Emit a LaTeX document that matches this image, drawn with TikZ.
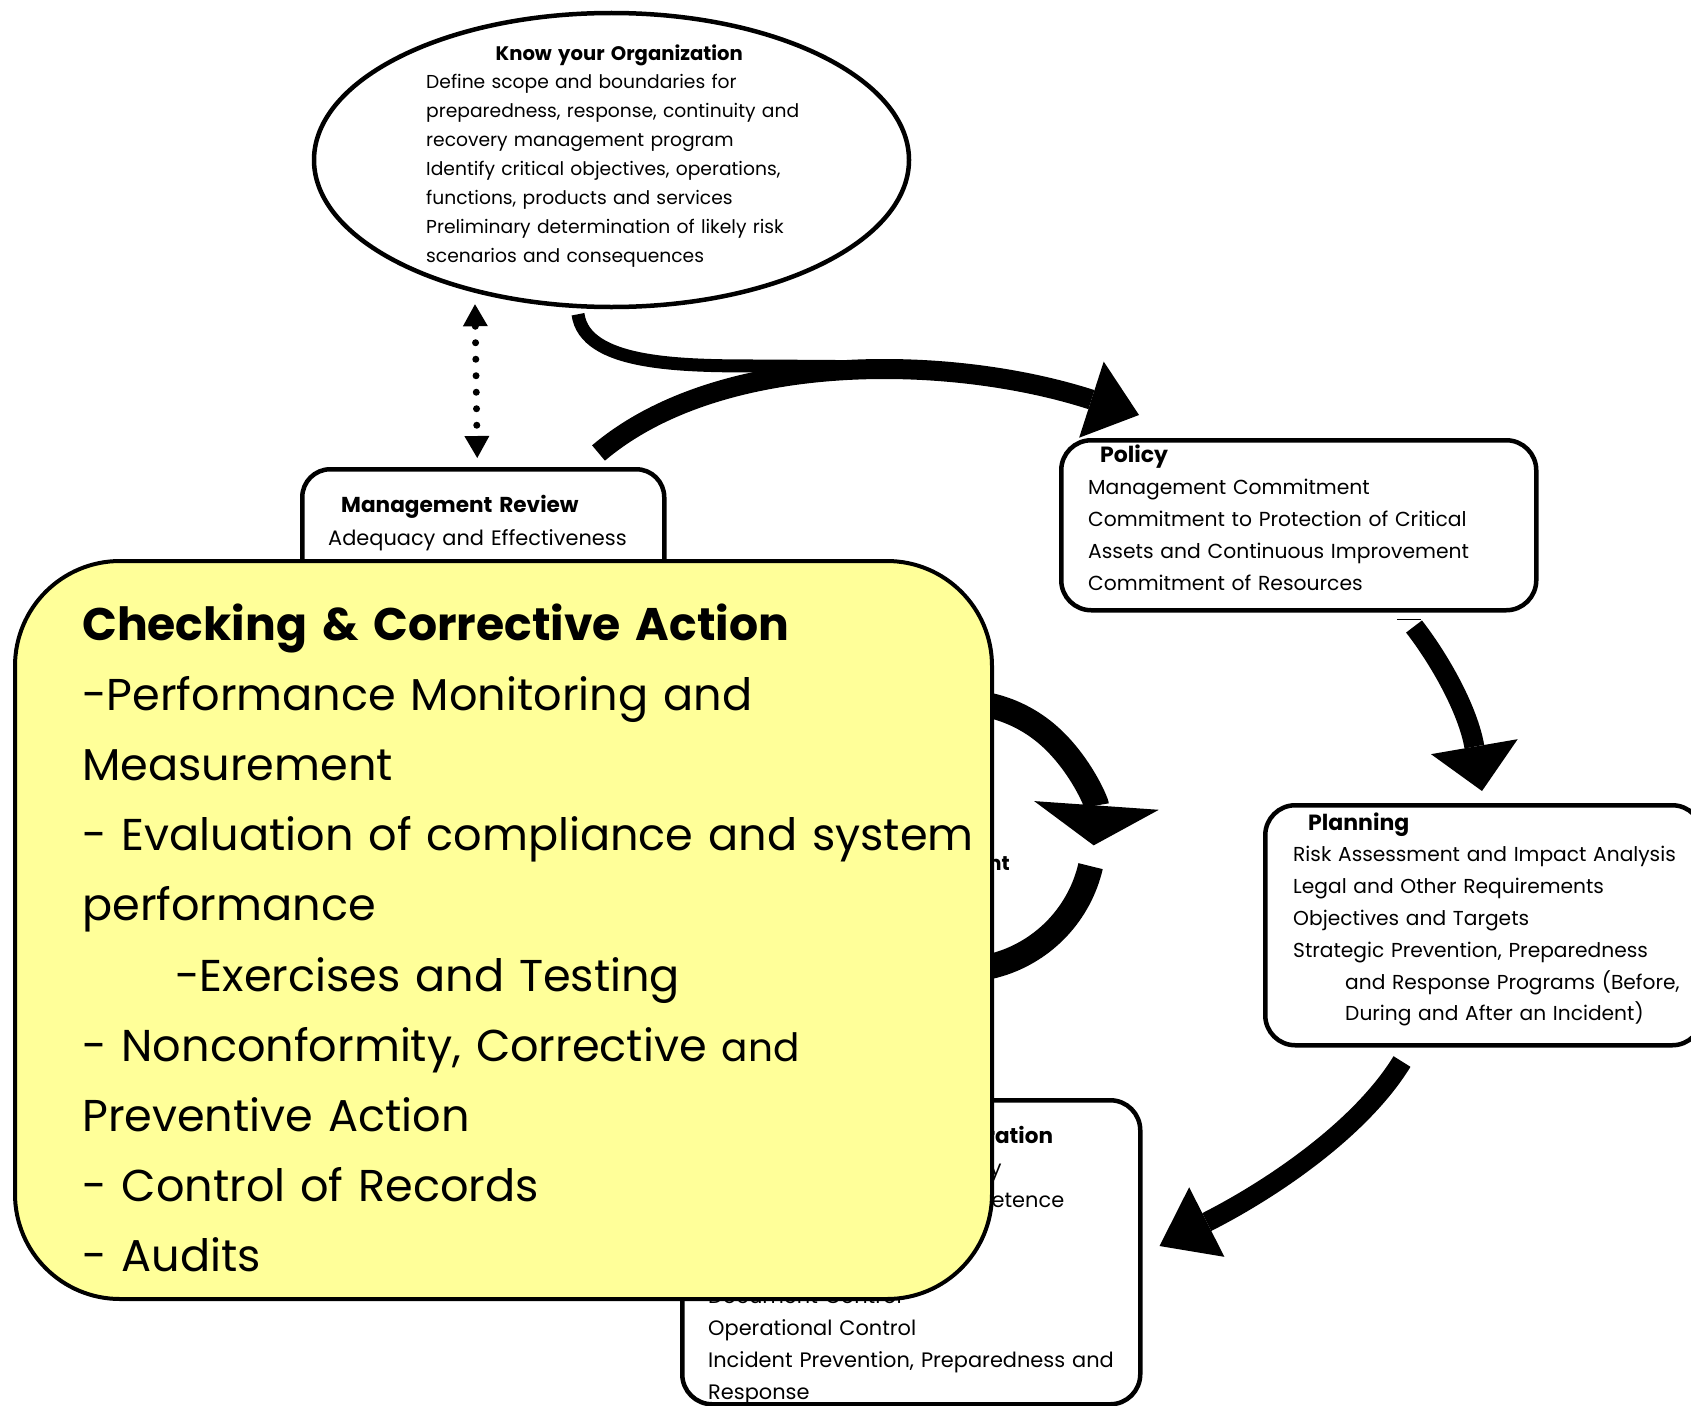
\documentclass[tikz,border=0pt]{standalone}
\usepackage{fontspec}
\setmainfont{Poppins}
\usetikzlibrary{arrows.meta,shapes.geometric}

\definecolor{notepad}{HTML}{FFFF99}

\tikzset{
  box/.style={draw, line width=4.5pt, rounded corners=30pt, inner sep=0pt, anchor=north west},
  txt/.style={anchor=base west, inner sep=0pt, align=left, text width=560pt},
  flow/.style={line width=20pt, -{Triangle[length=50pt,width=80pt,line width=0pt]}},
}
\newcommand{\headfont}[1]{\fontsize{#1}{10}\selectfont\bfseries}

\begin{document}
\begin{tikzpicture}[x=1pt,y=-1pt]
\useasboundingbox (0,0) rectangle (1691,1405);
\clip (0,0) rectangle (1691,1405);

% know your organization
\node[draw, ellipse, line width=4.5pt, minimum width=595pt, minimum height=294pt, inner sep=0pt] (org) at (611.5,160) {};
\node[txt, font=\fontsize{18.7}{28.9}\selectfont] (orgtext) at (426,60)
  {\makebox[386pt]{\headfont{19.6}Know your Organization}\\
   Define scope and boundaries for\\
   preparedness, response, continuity and\\
   recovery management program\\
   Identify critical objectives, operations,\\
   functions, products and services\\
   Preliminary determination of likely risk\\
   scenarios and consequences};

% boxes
\node[box, rounded corners=28pt, minimum width=362pt, minimum height=150pt] (review) at (300,467) {};
\node[txt, font=\fontsize{20.9}{33}\selectfont] (reviewtext) at (328,512)
  {\hspace*{13pt}{\headfont{21.6}Management Review}\\
   Adequacy and Effectiveness};

\node[box, minimum width=475pt, minimum height=170pt] (policy) at (1059,438) {};
\node[txt, font=\fontsize{20.3}{32}\selectfont] (policytext) at (1088,462)
  {\hspace*{12pt}{\headfont{22}Policy}\\
   Management Commitment\\
   Commitment to Protection of Critical\\
   Assets and Continuous Improvement\\
   Commitment of Resources};
\draw[line width=1.5pt] ([shift={(338,7)}]policy.south west) -- ++(24,0);

\node[box, minimum width=437pt, minimum height=240pt] (plan) at (1263,803) {};
\node[txt, font=\fontsize{20.2}{31.8}\selectfont] (plantext) at (1293,830)
  {\hspace*{15pt}{\headfont{22}Planning}\\
   Risk Assessment and Impact Analysis\\
   Legal and Other Requirements\\
   Objectives and Targets\\
   Strategic Prevention, Preparedness\\
   \hspace*{52pt}and Response Programs (Before,\\
   \hspace*{52pt}During and After an Incident)};

\node[box, minimum width=458pt, minimum height=304pt] (impl) at (680,1098) {};
\node[txt, font=\fontsize{20.9}{32}\selectfont] (impltext) at (708,1143)
  {\hspace*{-5pt}{\headfont{21.5}Implementation and Operation}\\
   Structure and Responsibility\\
   \hspace*{-47pt}Training, Awareness and Competence\\
   Communication\\
   Documentation\\
   Document Control\\
   Operational Control\\
   Incident Prevention, Preparedness and\\
   Response};

% arrows
\draw[line width=7pt, line cap=round, dash pattern=on 0pt off 16.5pt,
  {Triangle[length=22pt,width=25pt,line width=0pt]}-{Triangle[length=22pt,width=25pt,line width=0pt]}]
  ([shift={(-136.5,-5)}]org.south) -- ([shift={(-6,-9)}]review.north);

\coordinate (merge) at (912,367);
\draw[line width=13pt] ([shift={(-33.5,5)}]org.south) .. controls (585,365) and (680,366) .. (760,366) -- (merge);
\draw[flow] ([shift={(-68,-14)}]review.north east) .. controls (720,350) and (950,354) .. ([shift={(80,-23)}]policy.north west);

\draw[flow, -{Triangle[length=45pt,width=88pt,line width=0pt]}]
  ([shift={(355,14)}]policy.south west) .. controls (1440,660) and (1468,710) .. ([shift={(219,-12)}]plan.north west);

\draw[flow, -{Triangle[length=53pt,width=78pt,line width=0pt]}]
  ([shift={(139,14)}]plan.south west) .. controls (1360,1130) and (1270,1190) .. ([shift={(17,148)}]impl.north east);

% loop in the middle
\coordinate (ci) at (960,836);
\draw[line width=25pt, -{Triangle[length=40pt,width=125pt,line width=0pt]}] (ci) ++(-110:134) arc (-110:4:134);
\draw[line width=25pt] (ci) ++(13:134) arc (13:110:134);
\node[anchor=base east, inner sep=0pt, font=\headfont{20}] (loop) at (1010,870) {nt};

% checking box on top
\node[box, fill=notepad, line width=4pt, rounded corners=105pt, minimum width=977pt, minimum height=738pt] (check) at (13,559) {};
\node[txt, text width=950pt, font=\fontsize{44.6}{70.2}\selectfont] (checktext) at (82,640)
  {{\headfont{45.7}Checking \& Corrective Action}\\
   -Performance Monitoring and\\
   Measurement\\
   - Evaluation of compliance and system\\
   performance\\
   \hspace*{93pt}-Exercises and Testing\\
   - Nonconformity, Corrective {\fontsize{39}{70.2}\selectfont and}\\
   Preventive Action\\
   - Control of Records\\
   - Audits};

\end{tikzpicture}
\end{document}
